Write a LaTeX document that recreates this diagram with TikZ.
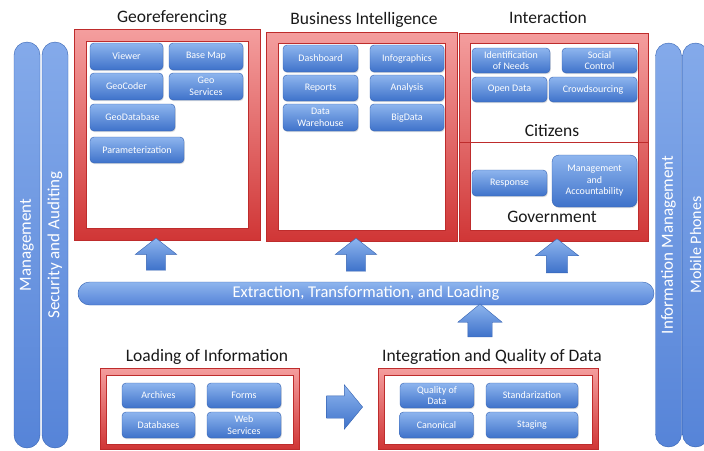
\documentclass[tikz,border=0pt]{standalone}
\usepackage{fontspec}
\setmainfont{Carlito}
\usepackage{xcolor}
\usetikzlibrary{positioning, shapes.arrows, shadows}

\definecolor{frameTop}{RGB}{244,158,158}
\definecolor{frameBot}{RGB}{208,54,54}
\definecolor{frameLine}{RGB}{190,44,44}
\definecolor{boxTop}{RGB}{142,181,238}
\definecolor{boxBot}{RGB}{62,114,202}
\definecolor{boxLine}{RGB}{52,98,178}
\definecolor{barLight}{RGB}{132,170,234}
\definecolor{barDark}{RGB}{86,132,216}

\tikzset{
    item/.style={rectangle, rounded corners=4pt, draw=boxLine, top color=boxTop, bottom color=boxBot, text=white, align=center, font=\fontsize{10}{11.5}\selectfont, minimum width=73pt, minimum height=27pt, inner sep=1pt, drop shadow={opacity=0.25, shadow xshift=0.8pt, shadow yshift=-1.2pt}},
    frame/.style={rectangle, draw=frameLine, top color=frameTop, bottom color=frameBot, inner sep=0pt},
    panel/.style={rectangle, draw=frameLine, fill=white, inner sep=0pt},
    title/.style={font=\fontsize{17.5}{20}\selectfont, text=black!90},
    bar/.style={rectangle, rounded corners=13pt, draw=boxLine, rotate=90, top color=barLight, bottom color=barDark, text=white, font=\fontsize{17}{20}\selectfont, minimum width=406pt, minimum height=26pt, inner sep=0pt},
    pipe/.style={rectangle, rounded corners=11.5pt, draw=boxLine, top color=boxTop, bottom color=barDark, text=white, font=\fontsize{16.5}{19}\selectfont, minimum width=576pt, minimum height=23pt, inner sep=0pt},
    blockarrow/.style={single arrow, draw=boxLine, top color=boxTop, bottom color=boxBot, inner xsep=0pt, inner ysep=9.5pt, single arrow head extend=11pt, single arrow tip angle=104, minimum height=33pt}
}

\begin{document}
\begin{tikzpicture}[x=1pt, y=-1pt]
    \useasboundingbox (0,0) rectangle (704,450);

    % side pillars
    \node[bar] (mgmt) at (27,245) {Management};
    \node[bar] (security) at (55,245) {Security and Auditing};
    \node[bar, minimum width=404pt] (infomgmt) at (668.5,245) {Information Management};
    \node[bar, minimum width=404pt, font=\fontsize{16}{19}\selectfont] (mobile) at (695.5,245) {Mobile Phones};

    % Georeferencing
    \node[title] (geoTitle) at (172,18) {Georeferencing};
    \node[frame, minimum width=186pt, minimum height=211pt] (geoFrame) at (167,134.5) {};
    \node[panel, minimum width=162pt, minimum height=187pt] (geoPanel) at (167,134.5) {};
    \node[item] (viewer) at (126.5,56.5) {Viewer};
    \node[item, minimum width=74pt] (basemap) at (206,56.5) {Base Map};
    \node[item] (geocoder) at (126.5,86.5) {GeoCoder};
    \node[item, minimum width=74pt] (geoserv) at (206,86.5) {Geo\\Services};
    \node[item, minimum width=85pt] (geodb) at (132.5,117.5) {GeoDatabase};
    \node[item, minimum width=94pt, minimum height=26pt] (param) at (137,150) {Parameterization};

    % Business Intelligence
    \node[title] (biTitle) at (364,19.5) {Business Intelligence};
    \node[frame, minimum width=191pt, minimum height=209pt] (biFrame) at (361.5,136.5) {};
    \node[panel, minimum width=167pt, minimum height=187pt] (biPanel) at (361.5,136.5) {};
    \node[item, minimum width=75pt] (dashboard) at (320.5,58.5) {Dashboard};
    \node[item, minimum width=74pt] (infographics) at (407,58.5) {Infographics};
    \node[item, minimum width=75pt, minimum height=26pt] (reports) at (320.5,88) {Reports};
    \node[item, minimum width=74pt, minimum height=26pt] (analysis) at (407,88) {Analysis};
    \node[item, minimum width=75pt] (warehouse) at (320.5,117.5) {Data\\Warehouse};
    \node[item, minimum width=74pt] (bigdata) at (407,117.5) {BigData};

    % Interaction
    \node[title] (intTitle) at (548,18) {Interaction};
    \node[frame, minimum width=189pt, minimum height=208pt] (intFrame) at (553.5,137) {};
    \node[panel, minimum width=168pt, minimum height=187pt] (intPanel) at (554,136.5) {};
    \coordinate (split) at (553.5,142);
    \draw[frameLine, thin] (split -| intFrame.west) -- (split -| intFrame.east);
    \node[item, minimum width=78pt, minimum height=25pt] (needs) at (511,60.5) {Identification\\of Needs};
    \node[item, minimum width=75pt, minimum height=25pt] (social) at (599.5,60.5) {Social\\Control};
    \node[item, minimum width=75pt, minimum height=25pt] (opendata) at (509.5,89.5) {Open Data};
    \node[item, minimum width=88pt, minimum height=25pt] (crowd) at (593,89.5) {Crowdsourcing};
    \node[title] (citizens) at (552,131) {Citizens};
    \node[item, minimum width=75pt, minimum height=26pt] (response) at (509.5,183) {Response};
    \node[item, minimum width=85pt, minimum height=52pt, rounded corners=7pt] (account) at (594.5,181) {Management\\and\\Accountability};
    \node[title] (government) at (552,217) {Government};

    % arrows into the upper blocks
    \node[blockarrow, rotate=90, minimum height=32pt] (upGeo) at (156,258) {};
    \node[blockarrow, rotate=90] (upBi) at (356,258.5) {};
    \node[blockarrow, rotate=90, minimum height=34pt, inner ysep=10.5pt] (upInt) at (557,260) {};

    % ETL pipe
    \node[pipe] (etl) at (366,293.5) {Extraction, Transformation, and Loading};

    \node[blockarrow, rotate=90, inner ysep=12pt, single arrow head extend=10pt, single arrow tip angle=101] (upEtl) at (480,325.5) {};

    % Loading of Information
    \node[title] (loadTitle) at (207,357) {Loading of Information};
    \node[frame, minimum width=199pt, minimum height=81pt] (loadFrame) at (199.5,408.5) {};
    \node[panel, minimum width=187pt, minimum height=69pt] (loadPanel) at (199.5,409.5) {};
    \node[item, minimum height=25pt] (archives) at (158.5,395.5) {Archives};
    \node[item, minimum width=74pt, minimum height=25pt] (forms) at (244,395.5) {Forms};
    \node[item, minimum height=26pt] (databases) at (158.5,425) {Databases};
    \node[item, minimum width=74pt, minimum height=26pt] (websvc) at (244,425) {Web\\Services};

    \node[blockarrow, inner ysep=11pt, minimum height=36pt, single arrow tip angle=101] (toInteg) at (340,407) {};

    % Integration and Quality of Data
    \node[title] (integTitle) at (492,357) {Integration and Quality of Data};
    \node[frame, minimum width=220pt, minimum height=81pt] (integFrame) at (488,408.5) {};
    \node[panel, minimum width=208pt, minimum height=69pt] (integPanel) at (488,409.5) {};
    \node[item, minimum width=74pt, minimum height=25pt] (quality) at (437,395.5) {Quality of\\Data};
    \node[item, minimum width=92pt, minimum height=25pt] (standard) at (532,395.5) {Standarization};
    \node[item, minimum width=74pt, minimum height=26pt] (canonical) at (436.5,425) {Canonical};
    \node[item, minimum width=92pt, minimum height=26pt] (staging) at (532,425) {Staging};
\end{tikzpicture}
\end{document}
